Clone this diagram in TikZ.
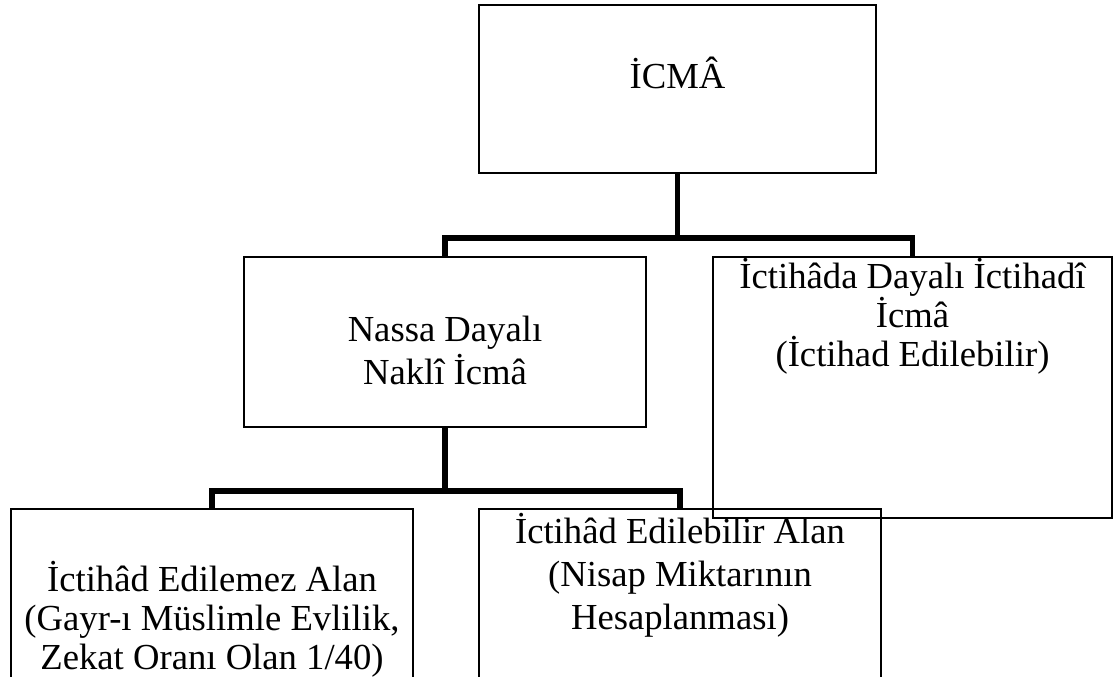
\documentclass[tikz,border=0pt]{standalone}
\usepackage{fontspec}
\setmainfont{Liberation Serif}
\begin{document}
\begin{tikzpicture}[x=0.75pt, y=-0.75pt,
	kutu/.style 2 args={draw, line width=1.2pt, inner sep=0pt, minimum width=#1, minimum height=#2},
	yazi/.style={align=center, anchor=base, inner sep=0pt, font=\fontsize{27.5}{29.25}\selectfont},
	genis/.style={font=\fontsize{27.5}{32.25}\selectfont},
	baglanti/.style={line width=3.9pt}]
	  \useasboundingbox (0,0) rectangle (1114,676);
	  % kutular
	  \node[kutu={297.75pt}{126pt}] (icma) at (677.5,89) {};
	  \node[kutu={301.5pt}{127.5pt}] (nakli) at (445,342) {};
	  \node[kutu={299.25pt}{195.75pt}] (ictihadi) at (912.5,387.5) {};
	  \node[kutu={301.5pt}{195pt}] (edilemez) at (212,639) {};
	  \node[kutu={301.5pt}{195pt}] (edilebilir) at (680,639) {};
	  % yazilar
	  \node[yazi] (icma-y) at ([yshift=-63pt]icma.north) {İCMÂ};
	  \node[yazi, genis] (nakli-y) at ([yshift=-96pt]nakli.north) {Nassa Dayalı\\Naklî İcmâ};
	  \node[yazi] (ictihadi-y) at ([yshift=-82.5pt]ictihadi.north) {İctihâda Dayalı İctihadî\\İcmâ\\(İctihad Edilebilir)};
	  \node[yazi] (edilemez-y) at ([yshift=-120.75pt]edilemez.north) {İctihâd Edilemez Alan\\(Gayr-ı Müslimle Evlilik,\\Zekat Oranı Olan 1/40)};
	  \node[yazi, genis] (edilebilir-y) at ([yshift=-90.75pt]edilebilir.north) {İctihâd Edilebilir Alan\\(Nisap Miktarının\\Hesaplanması)};
	  % baglantilar
	  \coordinate (dal1) at (icma.south |- 0,238);
	  \coordinate (dal2) at (nakli.south |- 0,491);
	  \draw[baglanti] (icma.south) -- (dal1);
	  \draw[baglanti] (nakli.north) |- (dal1) -| (ictihadi.north);
	  \draw[baglanti] (nakli.south) -- (dal2);
	  \draw[baglanti] (edilemez.north) |- (dal2) -| (edilebilir.north);
	\end{tikzpicture}
\end{document}
